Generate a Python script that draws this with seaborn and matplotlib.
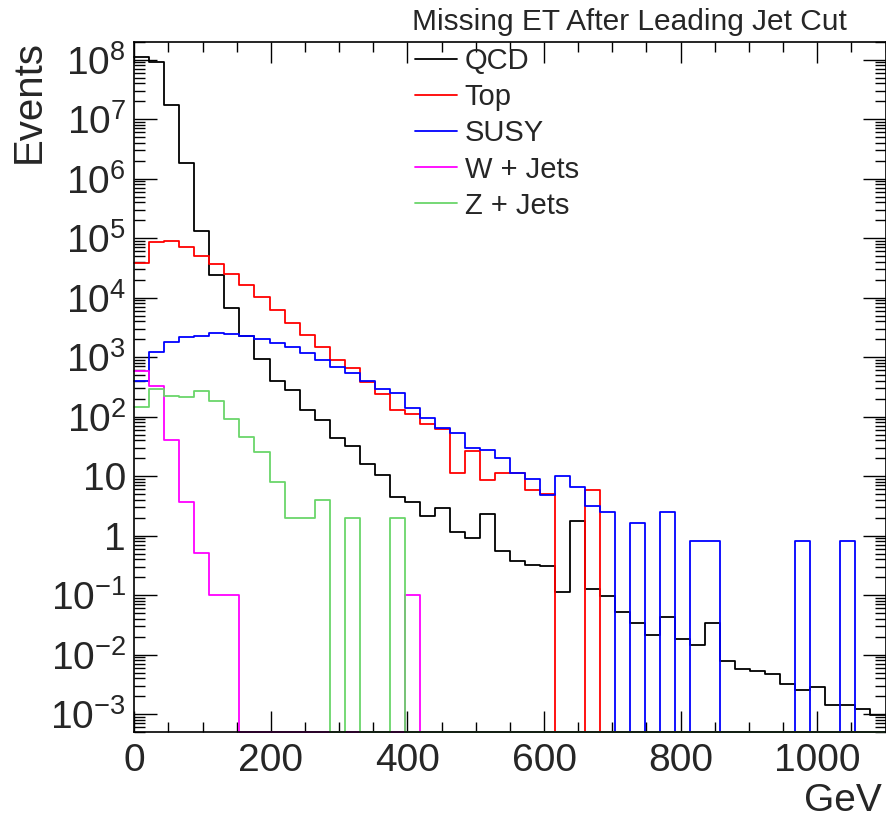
import numpy as np
import pandas as pd
import matplotlib
matplotlib.use("Agg")
import matplotlib.pyplot as plt
import seaborn as sns
from matplotlib.lines import Line2D
from matplotlib.ticker import FixedLocator, LogLocator, NullFormatter, MultipleLocator

# Missing ET histograms, 50 bins of 22 GeV from 0 to 1100 GeV
bin_edges = [22 * i for i in range(51)]

qcd = [1.09e8, 9.1e7, 1.7e7, 1.86e6, 1.33e5, 2.4e4, 6.8e3, 2.25e3, 940, 400,
       277, 128, 89, 44, 32, 16, 10.5, 4.4, 3.7, 2.1,
       2.9, 1.17, 0.90, 2.33, 0.55, 0.37, 0.322, 0.305, 0.113, 1.77,
       0.125, 0.0955, 0.0527, 0.0335, 0.0216, 0.0423, 0.018, 0.0143, 0.0335, 0.0077,
       0.0057, 0.0054, 0.00465, 0.00324, 0.0025, 0.0028, 0.00144, 0.00144, 0.00124, 0.00096]

top = [3.77e4, 8.7e4, 9.0e4, 7.1e4, 5.1e4, 3.7e4, 2.5e4, 1.6e4, 1.02e4, 6.2e3,
       3.8e3, 2.37e3, 1.45e3, 890, 650, 380, 240, 128, 112, 74,
       63, 11.2, 26.8, 8.5, 11.2, 11.2, 5.76, 5.0, 0, 0,
       5.76, 0, 0, 0, 0, 0, 0, 0, 0, 0,
       0, 0, 0, 0, 0, 0, 0, 0, 0, 0]

susy = [400, 1.2e3, 1.8e3, 2.19e3, 2.3e3, 2.5e3, 2.4e3, 2.28e3, 2.0e3, 1.7e3,
        1.47e3, 1.16e3, 890, 684, 540, 400, 290, 252, 140, 95,
        65, 53, 29.6, 27.8, 20, 11.2, 8.8, 4.86, 9.9, 6.5,
        3.2, 2.45, 0, 1.64, 0, 2.45, 0, 0.826, 0.826, 0,
        0, 0, 0, 0, 0.826, 0, 0, 0.826, 0, 0]

w_jets = [586, 327, 40, 3.65, 0.506, 0.1, 0.1, 0, 0, 0,
          0, 0, 0, 0, 0, 0, 0, 0, 0.1, 0,
          0, 0, 0, 0, 0, 0, 0, 0, 0, 0,
          0, 0, 0, 0, 0, 0, 0, 0, 0, 0,
          0, 0, 0, 0, 0, 0, 0, 0, 0, 0]

z_jets = [147, 296, 222, 211, 274, 182, 92.5, 45, 25.4, 7.9,
          2, 2, 4, 0, 2, 0, 0, 2, 0, 0,
          0, 0, 0, 0, 0, 0, 0, 0, 0, 0,
          0, 0, 0, 0, 0, 0, 0, 0, 0, 0,
          0, 0, 0, 0, 0, 0, 0, 0, 0, 0]

names = ["QCD", "Top", "SUSY", "W + Jets", "Z + Jets"]
colors = ["#000000", "#ff0000", "#0000ff", "#ff00ff", "#6ad66a"]
samples = [qcd, top, susy, w_jets, z_jets]

y_ticks = [1e-3, 1e-2, 1e-1, 1, 10, 1e2, 1e3, 1e4, 1e5, 1e6, 1e7, 1e8]
y_tick_labels = [r"$10^{-3}$", r"$10^{-2}$", r"$10^{-1}$", "1", "10", r"$10^{2}$",
                 r"$10^{3}$", r"$10^{4}$", r"$10^{5}$", r"$10^{6}$", r"$10^{7}$", r"$10^{8}$"]
x_ticks = [0, 200, 400, 600, 800, 1000]

sns.set_theme(style="ticks")
plt.rcParams["font.family"] = ["Liberation Sans", "DejaVu Sans"]
plt.rcParams["mathtext.fontset"] = "custom"
plt.rcParams["mathtext.rm"] = "Liberation Sans"
plt.rcParams["mathtext.it"] = "Liberation Sans:italic"
plt.rcParams["mathtext.bf"] = "Liberation Sans:bold"

W, H = 887, 819
fig = plt.figure(figsize=(W / 100, H / 100), dpi=100)
ax = fig.add_axes([134.3 / W, 1 - 732 / H, (885.5 - 134.3) / W, (732 - 41.7) / H])

y_min, y_max = 5e-4, 2e8
edges = np.asarray(bin_edges, dtype=float)
centers = (edges[:-1] + edges[1:]) / 2
lw = 1.3
for name, vals, color in zip(names, samples, colors):
    v = np.asarray(vals, dtype=float)
    # empty bins sit on the lower edge of the log axis
    frame = pd.DataFrame({"met": centers, "events": np.where(v > 0, v, y_min)})
    sns.histplot(data=frame, x="met", weights="events", bins=bin_edges,
                 element="step", fill=False, color=color, linewidth=lw,
                 ax=ax, clip_on=False)

ax.set_yscale("log")
ax.set_xlim(0, 1100)
ax.set_ylim(y_min, y_max)
ax.set_xlabel("")
ax.set_ylabel("")

ax.xaxis.set_major_locator(FixedLocator(x_ticks))
ax.xaxis.set_minor_locator(MultipleLocator(50))
ax.set_yticks(y_ticks, y_tick_labels)
ax.yaxis.set_minor_locator(LogLocator(base=10, subs=np.arange(2, 10), numticks=100))
ax.yaxis.set_minor_formatter(NullFormatter())

ax.tick_params(which="both", direction="in", top=True, right=True, color="black")
ax.tick_params(axis="x", which="major", length=15, width=1, labelsize=28, pad=8)
ax.tick_params(axis="x", which="minor", length=7.5, width=1)
ax.tick_params(axis="y", which="major", length=16.5, width=1, labelsize=28, pad=6)
ax.tick_params(axis="y", which="minor", length=8, width=1)
for s in ax.spines.values():
    s.set_visible(True)
    s.set_color("black")
    s.set_linewidth(1.2)

fig.text(411.7 / W, 1 - 30 / H, "Missing ET After Leading Jet Cut",
         fontsize=21.5, ha="left", va="baseline")
fig.text(29 / W, 1 - 40 / H, "Events", rotation=90, fontsize=29,
         ha="center", va="top")
fig.text(882 / W, 1 - 811 / H, "GeV", fontsize=28, ha="right", va="baseline")

handles = [Line2D([], [], color=c, linewidth=lw) for c in colors]
ax.legend(handles, names, loc="upper left", bbox_to_anchor=(415 / W, 1 - 47 / H),
          bbox_transform=fig.transFigure, frameon=False, fontsize=21,
          handlelength=1.44, handletextpad=0.27, labelspacing=0.28,
          borderpad=0, borderaxespad=0)

fig.savefig("out.png", dpi=100)
